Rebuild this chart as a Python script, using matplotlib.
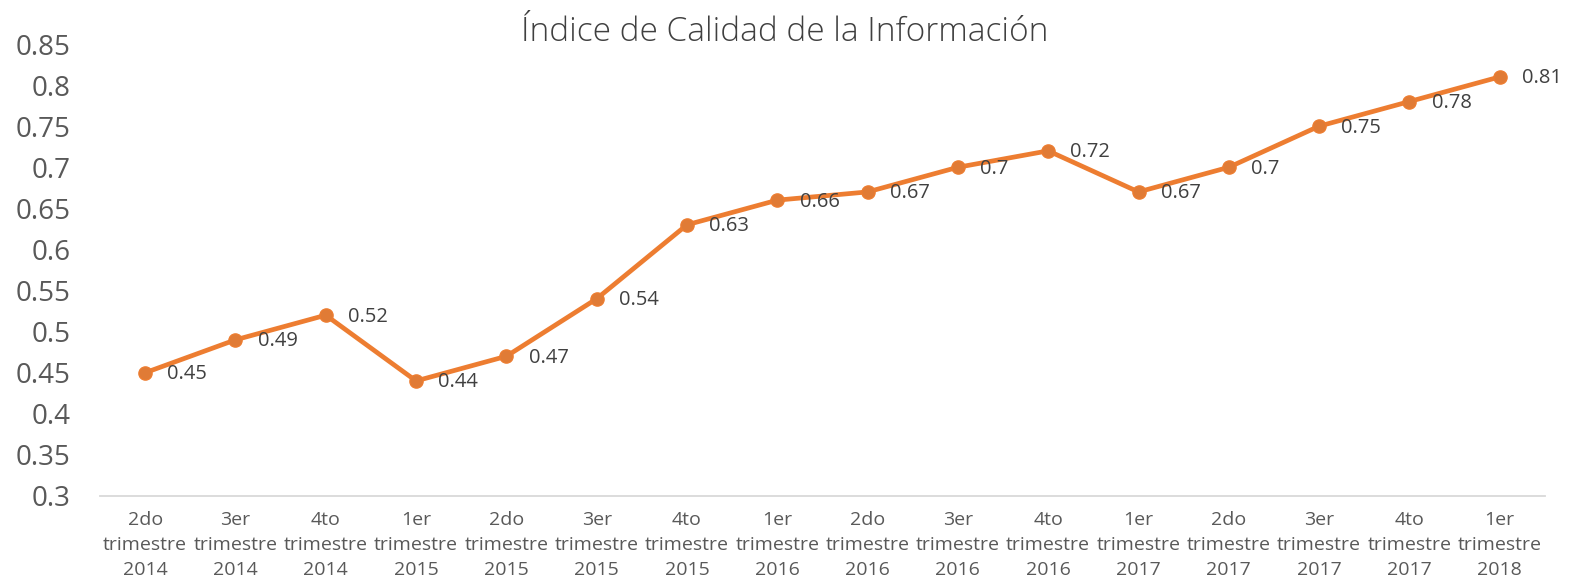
import matplotlib.pyplot as plt

plt.rcParams['font.family'] = ['Open Sans', 'DejaVu Sans']

periodos = ['2do\ntrimestre\n2014', '3er\ntrimestre\n2014', '4to\ntrimestre\n2014',
            '1er\ntrimestre\n2015', '2do\ntrimestre\n2015', '3er\ntrimestre\n2015',
            '4to\ntrimestre\n2015', '1er\ntrimestre\n2016', '2do\ntrimestre\n2016',
            '3er\ntrimestre\n2016', '4to\ntrimestre\n2016', '1er\ntrimestre\n2017',
            '2do\ntrimestre\n2017', '3er\ntrimestre\n2017', '4to\ntrimestre\n2017',
            '1er\ntrimestre\n2018']
indice = [0.45, 0.49, 0.52, 0.44, 0.47, 0.54, 0.63, 0.66, 0.67, 0.7,
          0.72, 0.67, 0.7, 0.75, 0.78, 0.81]
yticks = [0.3, 0.35, 0.4, 0.45, 0.5, 0.55, 0.6, 0.65, 0.7, 0.75, 0.8, 0.85]
yticklabels = ['0.3', '0.35', '0.4', '0.45', '0.5', '0.55', '0.6', '0.65',
               '0.7', '0.75', '0.8', '0.85']

gris = '#595959'

fig = plt.figure(figsize=(15.7, 5.79), dpi=100)
ax = fig.add_axes([0.0637, 0.1434, 0.9203, 0.7806])

x = list(range(len(indice)))
ax.plot(x, indice, color='#ED7D31', linewidth=3.4, marker='o', markersize=9.5,
        markerfacecolor='#E07B36', markeredgecolor='#ED7D31', zorder=3)

for xi, v in zip(x, indice):
    ax.annotate(f'{v:g}', (xi, v), xytext=(16, -1), textcoords='offset points',
                ha='left', va='center', fontsize=14.5, color='#404040')

ax.set_xlim(-0.5, len(indice) - 0.5)
ax.set_ylim(0.3, 0.85)
ax.set_yticks(yticks)
ax.set_yticklabels(yticklabels, fontsize=20, color=gris)
ax.set_xticks(x)
ax.set_xticklabels(periodos, fontsize=14, color=gris, linespacing=1.48)
ax.tick_params(axis='both', length=0)
ax.tick_params(axis='x', pad=11)
ax.tick_params(axis='y', pad=21)

for lado in ['top', 'right', 'left']:
    ax.spines[lado].set_visible(False)
ax.spines['bottom'].set_color('#D9D9D9')
ax.spines['bottom'].set_linewidth(1.3)

fig.text(0.5, 0.945, 'Índice de Calidad de la Información', ha='center',
         va='center', fontsize=24, color='#404040', fontweight='light')

fig.savefig('out.png', dpi=100)
